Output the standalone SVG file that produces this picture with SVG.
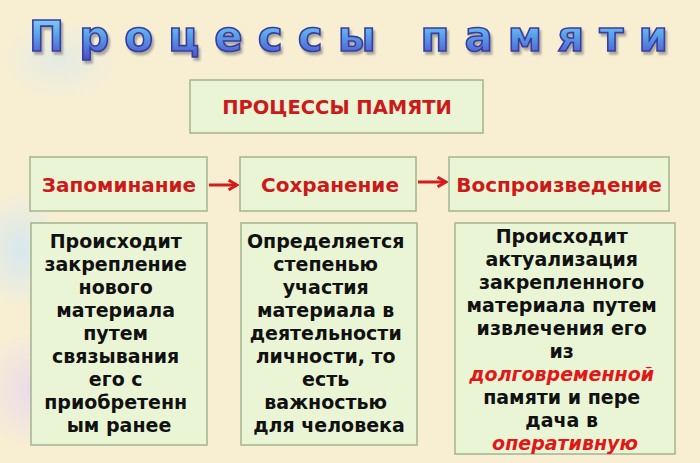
<svg xmlns="http://www.w3.org/2000/svg" width="700" height="463" viewBox="0 0 700 463">
<defs>
<linearGradient id="tg" x1="0" y1="0" x2="0" y2="1">
<stop offset="0" stop-color="#8fe0f8"/>
<stop offset="0.45" stop-color="#5aa6ea"/>
<stop offset="1" stop-color="#4a48c8"/>
</linearGradient>
<radialGradient id="b1" cx="0.5" cy="0.5" r="0.5">
<stop offset="0" stop-color="#cfe6f5" stop-opacity="0.8"/>
<stop offset="1" stop-color="#cfe6f5" stop-opacity="0"/>
</radialGradient>
<radialGradient id="b2" cx="0.5" cy="0.5" r="0.5">
<stop offset="0" stop-color="#e8d6f0" stop-opacity="0.8"/>
<stop offset="1" stop-color="#e8d6f0" stop-opacity="0"/>
</radialGradient>
<filter id="sh" x="-5%" y="-20%" width="110%" height="150%">
<feDropShadow dx="2" dy="3" stdDeviation="1.2" flood-color="#777" flood-opacity="0.6"/>
</filter>
<marker id="ah" viewBox="0 0 10 10" refX="8" refY="5" markerWidth="4" markerHeight="4" orient="auto" markerUnits="strokeWidth">
<path d="M1,1 L8,5 L1,9" fill="none" stroke="#d41c1c" stroke-width="2.5"/>
</marker>
</defs>
<style>
.box{fill:#eaf5d6;stroke:#a3b48f;stroke-width:1.5}
.red{fill:#cc1a1a;font-family:"DejaVu Sans",Verdana,sans-serif;font-weight:bold;text-anchor:middle}
.lbl{font-size:20px}
.body{fill:#111;font-family:"DejaVu Sans",Verdana,sans-serif;font-weight:bold;font-size:19px;text-anchor:middle}
.em{fill:#e01818;font-style:italic}
.conn{stroke:#d41c1c;stroke-width:3;fill:none}
</style>
<rect width="700" height="463" fill="#f8efd3"/>
<ellipse cx="20" cy="250" rx="45" ry="60" fill="url(#b1)"/>
<ellipse cx="30" cy="390" rx="50" ry="60" fill="url(#b2)"/>
<ellipse cx="60" cy="60" rx="60" ry="40" fill="url(#b1)" opacity="0.6"/>
<g id="title">
<text x="29" y="51" font-family="'DejaVu Sans',Verdana,sans-serif" font-weight="bold" font-size="42" textLength="639" lengthAdjust="spacing" fill="url(#tg)" stroke="#3a3aa0" stroke-width="1.6" filter="url(#sh)">Процессы памяти</text>
</g>
<g id="main">
<rect class="box" x="190" y="80" width="293" height="53"/>
<text class="red" x="337" y="114" font-size="19.5">ПРОЦЕССЫ ПАМЯТИ</text>
</g>
<g id="zapom">
<rect class="box" x="30" y="157" width="177" height="54"/>
<text class="red lbl" x="119" y="192">Запоминание</text>
</g>
<g id="sohr">
<rect class="box" x="240" y="157" width="176" height="54"/>
<text class="red lbl" x="330" y="192">Сохранение</text>
</g>
<g id="vospr">
<rect class="box" x="449" y="157" width="220" height="54"/>
<text class="red lbl" x="559" y="192">Воспроизведение</text>
</g>
<g id="connectors">
<line class="conn" x1="209" y1="185" x2="237" y2="185" marker-end="url(#ah)"/>
<line class="conn" x1="418" y1="182" x2="446" y2="182" marker-end="url(#ah)"/>
</g>
<g id="descA">
<rect class="box" x="31" y="223" width="176" height="222"/>
<text class="body">
<tspan x="119" y="248">Происходит</tspan>
<tspan x="119" y="271">закрепление</tspan>
<tspan x="119" y="294">нового</tspan>
<tspan x="119" y="317">материала</tspan>
<tspan x="119" y="340">путем</tspan>
<tspan x="119" y="363">связывания</tspan>
<tspan x="119" y="386">его с</tspan>
<tspan x="119" y="409">приобретенн</tspan>
<tspan x="119" y="432">ым ранее</tspan>
</text>
</g>
<g id="descB">
<rect class="box" x="241" y="223" width="176" height="222"/>
<text class="body">
<tspan x="329" y="248">Определяется</tspan>
<tspan x="329" y="271">степенью</tspan>
<tspan x="329" y="294">участия</tspan>
<tspan x="329" y="317">материала в</tspan>
<tspan x="329" y="340">деятельности</tspan>
<tspan x="329" y="363">личности, то</tspan>
<tspan x="329" y="386">есть</tspan>
<tspan x="329" y="409">важностью</tspan>
<tspan x="329" y="432">для человека</tspan>
</text>
</g>
<g id="descC">
<rect class="box" x="455" y="223" width="220" height="231"/>
<text class="body">
<tspan x="565" y="243">Происходит</tspan>
<tspan x="565" y="266">актуализация</tspan>
<tspan x="565" y="289">закрепленного</tspan>
<tspan x="565" y="312">материала путем</tspan>
<tspan x="565" y="335">извлечения его</tspan>
<tspan x="565" y="358">из</tspan>
<tspan x="565" y="381" class="em">долговременной</tspan>
<tspan x="565" y="404">памяти и пере</tspan>
<tspan x="565" y="427">дача в</tspan>
<tspan x="565" y="450" class="em">оперативную</tspan>
</text>
</g>
</svg>
